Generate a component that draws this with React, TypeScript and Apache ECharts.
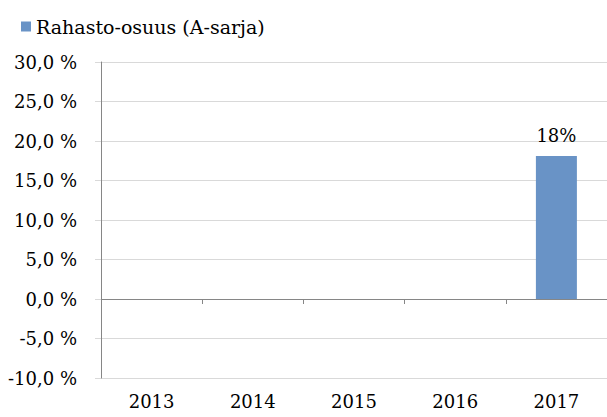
import React, { useEffect, useRef } from "react";
import * as echarts from "echarts";

const categories = ["2013", "2014", "2015", "2016", "2017"];
const fundShare: (number | null)[] = [null, null, null, null, 18.1];
const seriesName = "Rahasto-osuus (A-sarja)";
const yMin = -10;
const yMax = 30;
const yStep = 5;

export default function App() {
  const ref = useRef<HTMLDivElement>(null);
  useEffect(() => {
    document.body.style.margin = "0";
    const chart = echarts.init(ref.current!, null, { renderer: "svg" });
    const font = "DejaVu Serif";
    chart.setOption({
      animation: false,
      textStyle: { fontFamily: font },
      legend: {
        left: 16,
        top: 12,
        icon: "rect",
        itemWidth: 10,
        itemHeight: 10,
        itemGap: 10,
        textStyle: { fontFamily: font, fontSize: 19, color: "#000" },
        data: [seriesName],
      },
      grid: { left: 101, right: 0, top: 62, bottom: 39, containLabel: false },
      xAxis: [
        {
          type: "category",
          data: categories,
          position: "bottom",
          axisLine: { show: false, onZero: false },
          axisTick: { show: false },
          axisLabel: { fontFamily: font, fontSize: 18, color: "#000", margin: 14 },
        },
        {
          type: "category",
          data: categories,
          position: "bottom",
          axisLine: { show: true, onZero: true, lineStyle: { color: "#868686", width: 1 } },
          axisTick: { show: true, length: 5, inside: false, lineStyle: { color: "#868686" } },
          axisLabel: { show: false },
        },
      ],
      yAxis: {
        type: "value",
        min: yMin,
        max: yMax,
        interval: yStep,
        axisLine: { show: true, lineStyle: { color: "#868686" } },
        axisTick: { show: true, length: 6, lineStyle: { color: "#d9d9d9" } },
        splitLine: { show: true, lineStyle: { color: "#d9d9d9", width: 1 } },
        axisLabel: {
          fontFamily: font,
          fontSize: 18,
          color: "#000",
          margin: 24,
          formatter: (v: number) => v.toFixed(1).replace(".", ",") + " %",
        },
      },
      series: [
        {
          name: seriesName,
          type: "bar",
          xAxisIndex: 0,
          data: fundShare,
          barWidth: 41,
          itemStyle: { color: "#6993c6" },
          label: {
            show: true,
            position: "top",
            distance: 12,
            fontFamily: font,
            fontSize: 18,
            color: "#000",
            formatter: (p: any) => (p.value == null ? "" : Math.round(p.value) + "%"),
          },
        },
      ],
    });
    return () => chart.dispose();
  }, []);
  return <div ref={ref} style={{ width: 607, height: 417 }} />;
}
